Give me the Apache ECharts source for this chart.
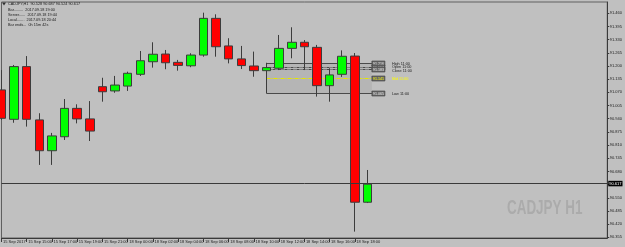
<!DOCTYPE html>
<html><head><meta charset="utf-8">
<script src="https://cdn.jsdelivr.net/npm/echarts@6/dist/echarts.min.js"></script>
<style>html,body{margin:0;padding:0;background:#c0c0c0}#c{width:625px;height:247px}</style>
</head><body><div id="c"></div>
<script>
// ---- data ----
const times = ['15 Sep 2017','15 Sep 14:00','15 Sep 15:00','15 Sep 16:00','15 Sep 17:00','15 Sep 18:00','15 Sep 19:00','15 Sep 20:00','15 Sep 21:00','15 Sep 22:00',
  '18 Sep 00:00','18 Sep 01:00','18 Sep 02:00','18 Sep 03:00','18 Sep 04:00','18 Sep 05:00','18 Sep 06:00','18 Sep 07:00','18 Sep 08:00','18 Sep 09:00',
  '18 Sep 10:00','18 Sep 11:00','18 Sep 12:00','18 Sep 13:00','18 Sep 14:00','18 Sep 15:00','18 Sep 16:00','18 Sep 17:00','18 Sep 18:00','18 Sep 19:00'];
const opens  = [91.082, 90.937, 91.197, 90.934, 90.782, 90.851, 90.991, 90.939, 91.098, 91.077, 91.101, 91.159, 91.221, 91.259, 91.218, 91.201, 91.254, 91.435, 91.299, 91.235, 91.200, 91.177, 91.189, 91.287, 91.317, 91.292, 91.103, 91.159, 91.249, 90.528];
const closes = [90.942, 91.197, 90.937, 90.782, 90.855, 90.991, 90.939, 90.879, 91.073, 91.106, 91.164, 91.226, 91.258, 91.216, 91.203, 91.254, 91.435, 91.295, 91.235, 91.202, 91.177, 91.192, 91.287, 91.317, 91.295, 91.103, 91.156, 91.248, 90.528, 90.617];
const highs  = [91.180, 91.205, 91.249, 90.967, 90.870, 91.037, 91.011, 91.027, 91.142, 91.151, 91.172, 91.274, 91.317, 91.279, 91.230, 91.263, 91.463, 91.455, 91.337, 91.299, 91.271, 91.216, 91.353, 91.391, 91.328, 91.304, 91.189, 91.277, 91.264, 90.687];
const lows   = [90.934, 90.920, 90.901, 90.712, 90.712, 90.835, 90.917, 90.830, 91.024, 91.068, 91.077, 91.151, 91.192, 91.184, 91.177, 91.194, 91.246, 91.246, 91.213, 91.185, 91.147, 91.065, 91.180, 91.238, 91.180, 91.049, 91.024, 91.146, 90.383, 90.524];
const emptySlots = 19;                 // right-hand chart shift
const yTicks = [90.355, 90.420, 90.485, 90.550, 90.615, 90.680, 90.745, 90.810, 90.875, 90.940, 91.005, 91.070, 91.135, 91.200, 91.265, 91.330, 91.395, 91.460];
const currentPrice = 90.617;
const rangeStartIndex = 21;            // 18 Sep 11:00 bar
const rangeEndIndex = 29;
const rangeLabels = ['High 11:00', 'Open 11:00', 'Close 11:00', 'Mid 11:00', 'Low 11:00'];
const rangePrices = [91.216, 91.197, 91.183, 91.141, 91.065];
const infoLines = ['CADJPY,H1  90.528 90.687 90.524 90.617', 'Bar.........  2017.09.18 19:00', 'Server......  2017.09.18 19:44', 'Local.......  2017.09.18 20:44', 'Bar ends...  0h 15m 42s'];
const watermark = 'CADJPY H1';

// ---- build ----
const cats = times.concat(new Array(emptySlots).fill(''));
const ohlc = opens.map((o, i) => [o, closes[i], lows[i], highs[i]]);
const FONT = 'Liberation Sans';
const chart = echarts.init(document.getElementById('c'), null, {renderer: 'canvas'});

function rangeRender(params, api) {
  const step = api.size([1, 0])[0];
  const x0 = api.coord([rangeStartIndex, rangePrices[0]])[0];
  const x1 = api.coord([rangeEndIndex, rangePrices[0]])[0] + step * 0.35;
  const yOf = p => Math.round(api.coord([rangeStartIndex, p])[1]) + 0.5;
  const yH = yOf(rangePrices[0]), yL = yOf(rangePrices[4]);
  const ch = [];
  ch.push({type: 'rect', shape: {x: x0, y: yH, width: x1 - x0, height: yL - yH}, style: {fill: 'rgba(110,110,110,0.13)'}});
  const styles = [
    {stroke: '#4a4a4a', lineWidth: 1},
    {stroke: '#4a4a4a', lineWidth: 1, lineDash: [3, 1, 1, 1]},
    {stroke: '#4a4a4a', lineWidth: 1, lineDash: [3, 1, 1, 1]},
    {stroke: '#e6e600', lineWidth: 1, lineDash: [4, 1, 1, 1]},
    {stroke: '#4a4a4a', lineWidth: 1}
  ];
  rangePrices.forEach((p, i) => {
    const y = yOf(p);
    ch.push({type: 'line', shape: {x1: x0, y1: y, x2: x1, y2: y}, style: styles[i]});
  });
  rangePrices.forEach((p, i) => {
    const y = yOf(p);
    const yellow = i === 3;
    ch.push({type: 'rect', shape: {x: x1, y: y - 2.5, width: 13, height: 5}, style: {fill: '#6a6a6a', stroke: '#3a3a3a', lineWidth: 0.6}});
    ch.push({type: 'text', x: x1 + 6.5, y: y, style: {text: p.toFixed(3), fill: yellow ? '#ffff00' : '#eeeeee', font: '3.6px ' + FONT, align: 'center', verticalAlign: 'middle'}});
    ch.push({type: 'text', x: x1 + 20, y: y + (i === 1 ? -1 : i === 2 ? 1.5 : 0), style: {text: rangeLabels[i], fill: yellow ? '#ffff00' : '#202020', font: '3.8px ' + FONT, align: 'left', verticalAlign: 'middle'}});
  });
  return {type: 'group', children: ch};
}

const option = {
  animation: false,
  backgroundColor: '#c0c0c0',
  grid: {left: 1, right: 16, top: 2, bottom: 9, show: true, borderColor: '#606060', borderWidth: 1, backgroundColor: '#c0c0c0'},
  xAxis: {
    type: 'category', data: cats, boundaryGap: false,
    axisLine: {show: true, lineStyle: {color: '#3a3a3a', width: 1}},
    axisTick: {show: true, length: 4, lineStyle: {color: '#3a3a3a'}, interval: (i, v) => v !== '' && i % 2 === 0},
    axisLabel: {show: true, fontSize: 4, fontFamily: FONT, color: '#1a1a1a', margin: 1.5, align: 'left', padding: [0, 0, 0, 1.5],
      interval: (i, v) => v !== '' && i % 2 === 0},
    splitLine: {show: false}
  },
  yAxis: {
    type: 'value', position: 'right', scale: true,
    min: 90.3515, max: 91.5157,
    axisLine: {show: true, lineStyle: {color: '#3a3a3a', width: 1}},
    axisTick: {show: true, length: 2, inside: false, customValues: yTicks, lineStyle: {color: '#3a3a3a'}},
    axisLabel: {show: true, fontSize: 4, fontFamily: FONT, color: '#1a1a1a', margin: 2.5, customValues: yTicks,
      formatter: v => Math.abs(v - 90.615) < 1e-6 ? '' : v.toFixed(3)},
    splitLine: {show: false}
  },
  series: [
    {type: 'custom', renderItem: rangeRender, data: [[rangeStartIndex, rangePrices[0]]], encode: {x: 0, y: 1}, z: 1, clip: false, silent: true},
    {
      type: 'candlestick', data: ohlc, barWidth: 9, z: 3,
      itemStyle: {color: '#00ff00', color0: '#ff0000', borderColor: '#3c3c3c', borderColor0: '#3c3c3c', borderWidth: 1},
      markLine: {
        silent: true, symbol: 'none', animation: false,
        lineStyle: {color: '#3a3a3a', width: 1, type: 'solid'},
        label: {show: true, position: 'end', distance: 1, formatter: () => currentPrice.toFixed(3), color: '#ffffff', backgroundColor: '#000000', fontSize: 4, fontFamily: FONT, padding: [1, 1, 0.5, 1]},
        data: [{yAxis: currentPrice}]
      }
    }
  ],
  graphic: [
    {type: 'polygon', shape: {points: [[2, 2.5], [6, 2.5], [4, 5.5]]}, style: {fill: '#303030'}},
    ...infoLines.map((t, i) => ({type: 'text', left: 8, top: 2 + (i === 0 ? 0 : 1 + i * 4.9), style: {text: t, font: '3.8px ' + FONT, fill: '#1a1a1a'}})),
    {type: 'text', x: 507, y: 198, scaleX: 0.64, style: {text: watermark, font: 'bold 21px "Liberation Sans", Arial', fill: '#ababab', align: 'left', verticalAlign: 'top'}}
  ]
};
chart.setOption(option);
</script></body></html>
